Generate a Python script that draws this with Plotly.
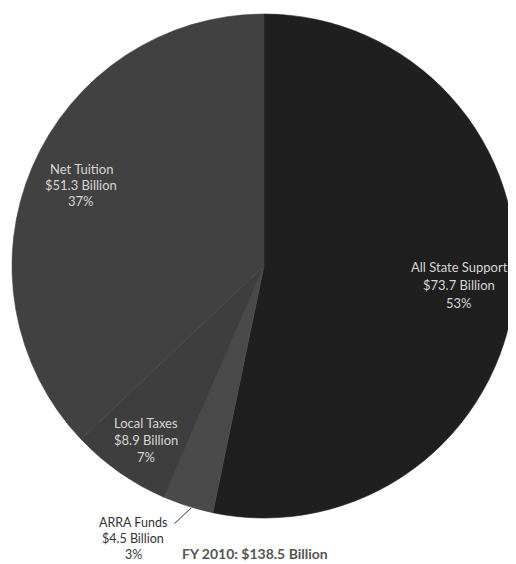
import plotly.graph_objects as go

# ---- data ----
categories = ["All State Support", "ARRA Funds", "Local Taxes", "Net Tuition"]
values_billion = [73.7, 4.5, 8.9, 51.3]
amount_labels = ["$73.7 Billion", "$4.5 Billion", "$8.9 Billion", "$51.3 Billion"]
percent_labels = ["53%", "3%", "7%", "37%"]
total_label = "FY 2010: $138.5 Billion"

# ---- styles ----
slice_colors = ["#1f1f1f", "#4a4a4a", "#3e3e3e", "#414141"]
OFF = 8  # page body margin offset (pixels)
W, H = 516 - OFF, 564 - OFF
FONT = "Lato, 'Open Sans', sans-serif"


def px(x):
    return (x - OFF) / W


def py(y):
    return 1 - (y - OFF) / H


# pie in screen pixels: left edge 12, right edge 516, vertical centre 266
left, right, cyc = 12, 516, 266
r0 = (right - left) / 2
fig = go.Figure(
    go.Pie(
        labels=categories,
        values=values_billion,
        sort=False,
        direction="clockwise",
        rotation=0,
        marker=dict(colors=slice_colors, line=dict(width=0.6, color=slice_colors)),
        textinfo="none",
        hoverinfo="label+value+percent",
        showlegend=False,
        domain=dict(x=[px(left), px(right)], y=[py(cyc + r0), py(cyc - r0)]),
    )
)

# label placement (center x, first line y, line step, colour, size) in pixels
label_pos = {
    "All State Support": (459, 267, 18, "#d6d6d6", 13),
    "Net Tuition": (81, 169, 16, "#d6d6d6", 13),
    "Local Taxes": (146, 423, 17, "#d6d6d6", 13),
    "ARRA Funds": (133, 522, 16, "#333333", 12.5),
}

annotations = []
for cat, amt, pct in zip(categories, amount_labels, percent_labels):
    lx, y0, step, col, fs = label_pos[cat]
    for i, line in enumerate([cat, amt, pct]):
        annotations.append(dict(
            x=px(lx), y=py(y0 + i * step), xref="paper", yref="paper",
            text=line, showarrow=False, xanchor="center", yanchor="middle",
            font=dict(family=FONT, size=fs, color=col),
        ))

# leader line for ARRA Funds
annotations.append(dict(
    x=px(191), y=py(508), xref="paper", yref="paper",
    ax=-18, ay=17, text="", showarrow=True, arrowhead=0,
    arrowwidth=1, arrowcolor="#333333",
))

# total caption
annotations.append(dict(
    x=px(180), y=py(553), xref="paper", yref="paper",
    text="<b>" + total_label + "</b>", showarrow=False,
    xanchor="left", yanchor="middle",
    font=dict(family=FONT, size=14, color="#555555"),
))

fig.update_layout(
    width=W, height=H,
    margin=dict(l=0, r=0, t=0, b=0),
    paper_bgcolor="white", plot_bgcolor="white",
    annotations=annotations,
)

fig.write_html("out.html")
